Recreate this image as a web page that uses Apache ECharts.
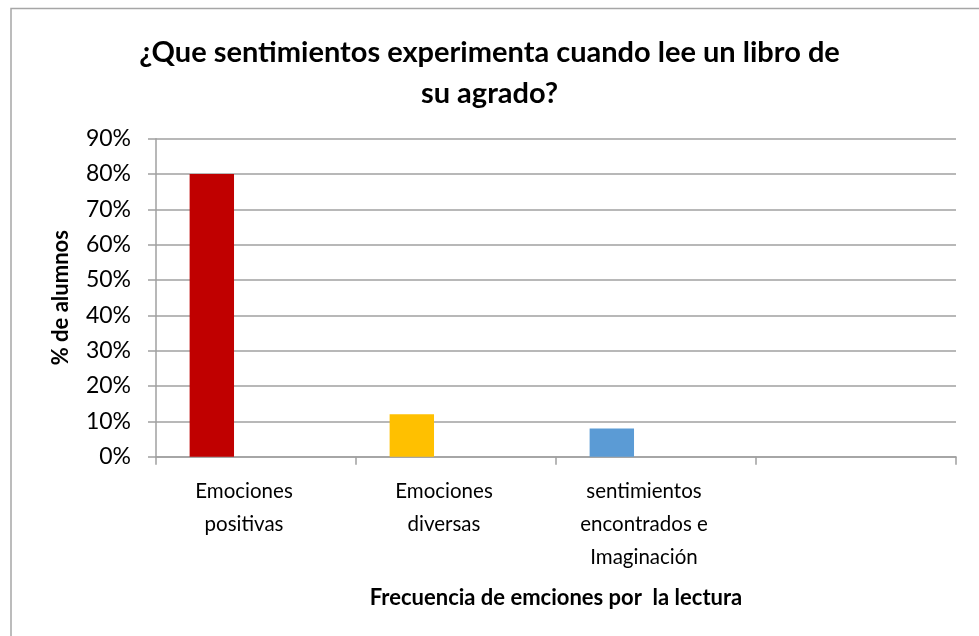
<!DOCTYPE html>
<html>
<head>
<meta charset="utf-8">
<script src="https://cdn.jsdelivr.net/npm/echarts@6/dist/echarts.min.js"></script>
<style>
    html, body { margin: 0; padding: 0; background: #ffffff; }
    #chart { width: 979px; height: 636px; }
</style>
</head>
<body>
<div id="chart"></div>
<script>
// datos del gráfico
const categories = [
    "Emociones\npositivas",
    "Emociones\ndiversas",
    "sentimientos\nencontrados e\nImaginación",
    "",
];
const alumnos = [0.8, 0.12, 0.08, null];
const barColors = ["#c00000", "#ffc000", "#5b9bd5", "#5b9bd5"];
const emptySeries = [null, null, null, null];
const yTicks = [0, 0.1, 0.2, 0.3, 0.4, 0.5, 0.6, 0.7, 0.8, 0.9];

const FONT = "Lato, 'Open Sans', sans-serif";
const GRID_COLOR = "#a0a0a0";

const chart = echarts.init(document.getElementById("chart"), null, { renderer: "canvas" });

const option = {
    animation: false,
    backgroundColor: "#ffffff",
    title: {
        text: "¿Que sentimientos experimenta cuando lee un libro de\nsu agrado?",
        left: "center",
        top: 27,
        textStyle: {
            fontFamily: FONT,
            fontSize: 29,
            fontWeight: "bold",
            color: "#000000",
            lineHeight: 41,
        },
    },
    graphic: [
        {
            type: "rect",
            shape: { x: 11, y: 8.5, width: 1200, height: 1000 },
            style: { fill: "none", stroke: "#a6a6a6", lineWidth: 1.5 },
            silent: true,
        },
    ],
    grid: {
        left: 156,
        right: 23,
        top: 138.7,
        bottom: 179.3,
        containLabel: false,
    },
    xAxis: {
        type: "category",
        data: categories,
        name: "Frecuencia de emciones por  la lectura",
        nameLocation: "middle",
        nameGap: 130,
        nameTextStyle: {
            fontFamily: FONT,
            fontSize: 22,
            fontWeight: "bold",
            color: "#000000",
        },
        axisLine: { show: true, lineStyle: { color: GRID_COLOR, width: 1.5 } },
        axisTick: { show: true, length: 8, alignWithLabel: false, lineStyle: { color: GRID_COLOR, width: 1.5 } },
        axisLabel: {
            fontFamily: FONT,
            fontSize: 20.5,
            color: "#000000",
            lineHeight: 33,
            margin: 18,
            verticalAlign: "top",
            padding: [0, 24, 0, 0],
            interval: 0,
        },
    },
    yAxis: {
        type: "value",
        min: 0,
        max: 0.9,
        interval: 0.1,
        name: "% de alumnos",
        nameLocation: "middle",
        nameRotate: 90,
        nameGap: 84,
        nameTextStyle: {
            fontFamily: FONT,
            fontSize: 22,
            fontWeight: "bold",
            color: "#000000",
        },
        axisLine: { show: true, lineStyle: { color: GRID_COLOR, width: 1.5 } },
        axisTick: { show: true, length: 8, lineStyle: { color: GRID_COLOR, width: 1.5 } },
        axisLabel: {
            fontFamily: FONT,
            fontSize: 23,
            color: "#000000",
            margin: 25,
            formatter: (v) => {
                const idx = yTicks.findIndex((t) => Math.abs(t - v) < 1e-9);
                return idx >= 0 ? Math.round(yTicks[idx] * 100) + "%" : "";
            },
        },
        splitLine: { show: true, lineStyle: { color: GRID_COLOR, width: 1.5 } },
    },
    series: [
        {
            name: "alumnos",
            type: "bar",
            barWidth: 44.4,
            barGap: "99%",
            data: alumnos.map((v, i) => ({
                value: v,
                itemStyle: { color: barColors[i] },
            })),
        },
        {
            name: "vacío",
            type: "bar",
            barWidth: 44.4,
            data: emptySeries,
        },
    ],
};

chart.setOption(option);
</script>
</body>
</html>
